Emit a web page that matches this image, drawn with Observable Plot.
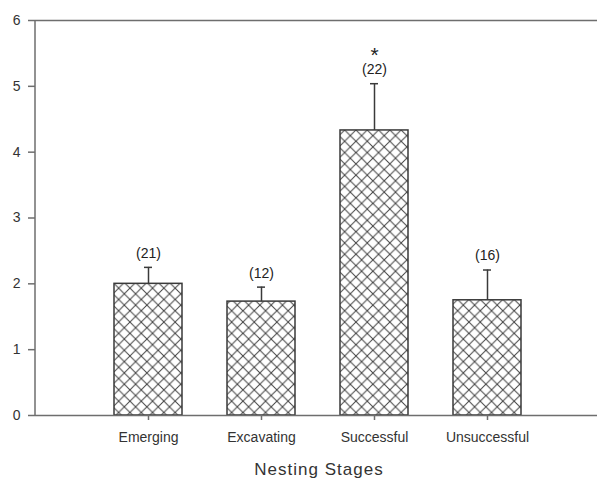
<!DOCTYPE html>
<html>
<head>
<meta charset="utf-8">
<script src="https://cdn.jsdelivr.net/npm/d3@7"></script>
<script src="https://cdn.jsdelivr.net/npm/@observablehq/plot@0.6"></script>
<style>
  html, body { margin: 0; padding: 0; background: #fff; }
  #chart { width: 600px; height: 481px; }
</style>
</head>
<body>
<div id="chart"></div>
<script>
const stages = ["Emerging", "Excavating", "Successful", "Unsuccessful"];
const means = [2.0, 1.73, 4.33, 1.75];
const errors = [0.25, 0.22, 0.71, 0.46];
const sampleSizes = ["(21)", "(12)", "(22)", "(16)"];
const significance = ["", "", "*", ""];
const yTicks = [0, 1, 2, 3, 4, 5, 6];

const data = stages.map((s, i) => ({
  stage: s, mean: means[i], top: means[i] + errors[i],
  n: sampleSizes[i], sig: significance[i]
}));

const axisColor = "#6e6e6e";
const font = "'Liberation Sans', Arial, sans-serif";

const plot = Plot.plot({
  width: 600,
  height: 481,
  marginTop: 20,
  marginBottom: 66,
  marginLeft: 35,
  marginRight: 3,
  style: { fontFamily: font, fontSize: "14px", color: "#333", background: "#fff" },
  x: { domain: stages, paddingInner: 0.4, paddingOuter: 0.68, align: 0.51, label: null },
  y: { domain: [0, 6], label: null },
  marks: [
    Plot.axisY({ ticks: yTicks, tickFormat: "d", tickSize: 7, tickPadding: 8, stroke: axisColor, strokeWidth: 1.5, fill: "#333", fontSize: 14, label: null }),
    Plot.axisX({ tickSize: 5, tickPadding: 12, stroke: axisColor, strokeWidth: 1.5, fill: "#333", fontSize: 14, letterSpacing: 1, label: null }),
    Plot.barY(data, { x: "stage", y: "mean", fill: "url(#crosshatch)", stroke: "#3a3a3a", strokeWidth: 1.5 }),
    Plot.ruleX(data, { x: "stage", y1: "mean", y2: "top", stroke: "#3a3a3a", strokeWidth: 1.5 }),
    Plot.tickY(data, { x: "stage", y: "top", stroke: "#3a3a3a", strokeWidth: 1.5, inset: 30 }),
    Plot.text(data, { x: "stage", y: "top", text: "n", dy: -14, fill: "#222", fontSize: 14, letterSpacing: 0.5 }),
    Plot.text(data, { x: "stage", y: "top", text: "sig", dy: -22, lineAnchor: "bottom", fill: "#222", fontSize: 21 }),
    Plot.ruleY([0], { stroke: axisColor, strokeWidth: 1.5 }),
    Plot.ruleY([6], { stroke: axisColor, strokeWidth: 1.5 })
  ]
});

// crosshatch pattern
const ns = "http://www.w3.org/2000/svg";
const defs = document.createElementNS(ns, "defs");
const pat = document.createElementNS(ns, "pattern");
pat.setAttribute("id", "crosshatch");
pat.setAttribute("patternUnits", "userSpaceOnUse");
pat.setAttribute("width", "11.3");
pat.setAttribute("height", "11.3");
const bg = document.createElementNS(ns, "rect");
bg.setAttribute("width", "11.3"); bg.setAttribute("height", "11.3"); bg.setAttribute("fill", "#fff");
pat.appendChild(bg);
for (const d of ["M0,0L11.3,11.3", "M11.3,0L0,11.3"]) {
  const p = document.createElementNS(ns, "path");
  p.setAttribute("d", d);
  p.setAttribute("stroke", "#444");
  p.setAttribute("stroke-width", "1");
  pat.appendChild(p);
}
defs.appendChild(pat);
plot.insertBefore(defs, plot.firstChild);

// left axis frame line
const yScale = plot.scale("y");
const line = document.createElementNS(ns, "line");
line.setAttribute("x1", 35); line.setAttribute("x2", 35);
line.setAttribute("y1", yScale.apply(0)); line.setAttribute("y2", yScale.apply(6));
line.setAttribute("stroke", axisColor); line.setAttribute("stroke-width", 1.5);
plot.appendChild(line);

// x axis title
const title = document.createElementNS(ns, "text");
title.setAttribute("x", 319); title.setAttribute("y", 471);
title.setAttribute("text-anchor", "middle"); title.setAttribute("dominant-baseline", "middle");
title.setAttribute("font-size", "17"); title.setAttribute("fill", "#333");
title.setAttribute("letter-spacing", "1");
title.setAttribute("font-family", font);
title.textContent = "Nesting Stages";
plot.appendChild(title);

document.getElementById("chart").appendChild(plot);
</script>
</body>
</html>
